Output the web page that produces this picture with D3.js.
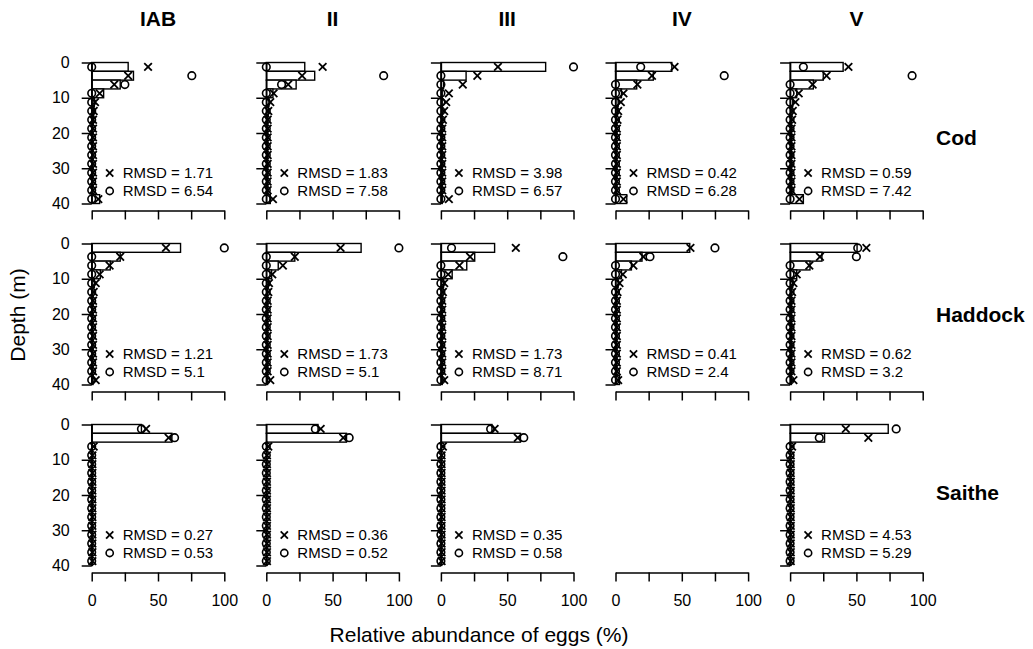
<!DOCTYPE html>
<html lang="en">
<head>
<meta charset="UTF-8">
<title>Relative abundance of eggs by depth</title>
<style>
    body { margin: 0; padding: 0; background: #fff; }
    svg { display: block; font-family: "Liberation Sans", Arial, sans-serif; }
    .axis path, .axis line { stroke: #000; stroke-width: 1.5; }
    .axis text { font-size: 16px; fill: #000; }
    .bar { fill: #fff; stroke: #000; stroke-width: 1.4; }
    .circ { fill: none; stroke: #000; stroke-width: 1.6; }
    .cross { stroke: #000; stroke-width: 1.8; }
    .rmsd { font-size: 15px; }
</style>
</head>
<body>
<svg width="1033" height="649"></svg>
<script src="https://d3js.org/d3.v7.min.js"></script>
<script>
    // Regions (columns) and species (rows)
    const regions = ["IAB", "II", "III", "IV", "V"];
    const species = ["Cod", "Haddock", "Saithe"];

    // Upper edge of each 2.5 m depth bin
    const binTops = [0, 2.5, 5, 7.5, 10, 12.5, 15, 17.5, 20, 22.5, 25, 27.5, 30, 32.5, 35, 37.5];
    const binSize = 2.5;

    const depthTicks = [0, 10, 20, 30, 40];
    const abundTicks = [0, 25, 50, 75, 100];
    const abundLabels = [0, 50, 100];

    // Bars, one row per region (IAB, II, III, IV, V)
    const codBars = [
        [27.5, 31.5, 21.5, 9, 2, 1.5, 1.2, 1, 1, 1, 1, 1, 1, 1, 1, 6],
        [29, 36.5, 22.5, 5, 2, 1.5, 1, 1, 1, 1, 1, 1, 1, 1, 1, 3],
        [79, 19, 2, 1, 1, 1, 1, 1, 1, 1, 1, 1, 1, 1, 1, 1],
        [42.5, 28.5, 16, 4.5, 2, 1.5, 1, 1, 1, 1, 1, 1, 1, 1, 1, 8.5],
        [40, 25, 17.5, 5, 2, 1.5, 1, 1, 1, 1, 1, 1, 1, 1, 1, 10]
    ];
    const codCross = [
        [42.5, 27.5, 17, 6, 2.5, 1.5, 1, 1, 1, 1, 1, 1, 1, 1, 1, 5],
        [42.5, 27, 16.5, 5.5, 3, 1.5, 1, 1, 1, 1, 1, 1, 1, 1, 1, 5],
        [43, 27.5, 16.5, 6, 4, 2.5, 1.5, 1, 1, 1, 1, 1, 1, 1, 1, 6],
        [44.5, 27.5, 16.5, 6, 4, 2, 1.5, 1, 1, 1, 1, 1, 1, 1, 1, 6],
        [44, 27.5, 17, 6.5, 4, 2, 1.5, 1, 1, 1, 1, 1, 1, 1, 1, 7]
    ];
    const codCircle = [
        [0, 75.5, 25, 0, 0, 0, 0, 0, 0, 0, 0, 0, 0, 0, 0, 0],
        [0, 88.5, 11.5, 0, 0, 0, 0, 0, 0, 0, 0, 0, 0, 0, 0, 0],
        [100, 0, 0, 0, 0, 0, 0, 0, 0, 0, 0, 0, 0, 0, 0, 0],
        [19, 82, 0, 0, 0, 0, 0, 0, 0, 0, 0, 0, 0, 0, 0, 0],
        [10, 92, 0, 0, 0, 0, 0, 0, 0, 0, 0, 0, 0, 0, 0, 0]
    ];

    const haddockBars = [
        [67, 21.5, 14, 6.5, 2, 1, 1, 1, 1, 1, 1, 1, 1, 1, 1, 1],
        [71.5, 21.5, 9, 4, 1.5, 1, 1, 1, 1, 1, 1, 1, 1, 1, 1, 1],
        [40.5, 25.5, 19.5, 8.5, 2, 1.5, 1, 1, 1, 1, 1, 1, 1, 1, 1, 1],
        [56, 20, 12, 4.5, 2, 1, 1, 1, 1, 1, 1, 1, 1, 1, 1, 3],
        [50.5, 24, 15, 5, 2, 1, 1, 1, 1, 1, 1, 1, 1, 1, 1, 1]
    ];
    const haddockCross = [
        [56, 21.5, 13.5, 6, 3, 1.5, 1, 1, 1, 1, 1, 1, 1, 1, 1, 3],
        [56, 21.5, 12.5, 4.5, 2, 1.5, 1, 1, 1, 1, 1, 1, 1, 1, 1, 3],
        [56.5, 22, 14, 5.5, 2.5, 1.5, 1, 1, 1, 1, 1, 1, 1, 1, 1, 2.5],
        [56.5, 21, 13.5, 5.5, 3, 1.5, 1, 1, 1, 1, 1, 1, 1, 1, 1, 2],
        [57.5, 22.5, 14.5, 5, 2.5, 1.5, 1, 1, 1, 1, 1, 1, 1, 1, 1, 2.5]
    ];
    const haddockCircle = [
        [100, 0, 0, 0, 0, 0, 0, 0, 0, 0, 0, 0, 0, 0, 0, 0],
        [100, 0, 0, 0, 0, 0, 0, 0, 0, 0, 0, 0, 0, 0, 0, 0],
        [8, 92, 0, 0, 0, 0, 0, 0, 0, 0, 0, 0, 0, 0, 0, 0],
        [75, 26, 0, 0, 0, 0, 0, 0, 0, 0, 0, 0, 0, 0, 0, 0],
        [51, 50, 0, 0, 0, 0, 0, 0, 0, 0, 0, 0, 0, 0, 0, 0]
    ];

    // Saithe has no panel for region IV
    const saitheBars = [
        [37.5, 60.5, 0.5, 0.5, 0.5, 0.5, 0.5, 0.5, 0.5, 0.5, 0.5, 0.5, 0.5, 0.5, 0.5, 0.5],
        [39, 60.5, 0.5, 0.5, 0.5, 0.5, 0.5, 0.5, 0.5, 0.5, 0.5, 0.5, 0.5, 0.5, 0.5, 0.5],
        [38.5, 60, 0.5, 0.5, 0.5, 0.5, 0.5, 0.5, 0.5, 0.5, 0.5, 0.5, 0.5, 0.5, 0.5, 0.5],
        null,
        [74, 26, 0.5, 0.5, 0.5, 0.5, 0.5, 0.5, 0.5, 0.5, 0.5, 0.5, 0.5, 0.5, 0.5, 0.5]
    ];
    const saitheCross = [
        [41, 58, 1.5, 0.5, 0.5, 0.5, 0.5, 0.5, 0.5, 0.5, 0.5, 0.5, 0.5, 0.5, 0.5, 0.5],
        [41, 58, 1.5, 0.5, 0.5, 0.5, 0.5, 0.5, 0.5, 0.5, 0.5, 0.5, 0.5, 0.5, 0.5, 0.5],
        [40.5, 58, 1.5, 0.5, 0.5, 0.5, 0.5, 0.5, 0.5, 0.5, 0.5, 0.5, 0.5, 0.5, 0.5, 0.5],
        null,
        [42, 59, 1.5, 0.5, 0.5, 0.5, 0.5, 0.5, 0.5, 0.5, 0.5, 0.5, 0.5, 0.5, 0.5, 0.5]
    ];
    const saitheCircle = [
        [37.5, 62.5, 0, 0, 0, 0, 0, 0, 0, 0, 0, 0, 0, 0, 0, 0],
        [37, 62.5, 0, 0, 0, 0, 0, 0, 0, 0, 0, 0, 0, 0, 0, 0],
        [37.5, 62.5, 0, 0, 0, 0, 0, 0, 0, 0, 0, 0, 0, 0, 0, 0],
        null,
        [80, 22, 0, 0, 0, 0, 0, 0, 0, 0, 0, 0, 0, 0, 0, 0]
    ];

    // RMSD labels (cross, circle) per species and region
    const rmsdCross = [
        ["1.71", "1.83", "3.98", "0.42", "0.59"],
        ["1.21", "1.73", "1.73", "0.41", "0.62"],
        ["0.27", "0.36", "0.35", null, "4.53"]
    ];
    const rmsdCircle = [
        ["6.54", "7.58", "6.57", "6.28", "7.42"],
        ["5.1", "5.1", "8.71", "2.4", "3.2"],
        ["0.53", "0.52", "0.58", null, "5.29"]
    ];

    const barsBySpecies = [codBars, haddockBars, saitheBars];
    const crossBySpecies = [codCross, haddockCross, saitheCross];
    const circleBySpecies = [codCircle, haddockCircle, saitheCircle];

    const svg = d3.select("svg");

    // Panel layout
    const panelLeft = 91.7, colStep = 174.6, panelW = 132.6;
    const panelTop = 62.5, rowStep = 181, panelH = 141;
    const xAxisOffset = 148;
    const speciesLabelDy = [75, 71, 68];
    const markSize = 3.8;

    function drawCross(g, cx, cy, s) {
        g.append("line").attr("class", "cross")
            .attr("x1", cx - s).attr("y1", cy - s).attr("x2", cx + s).attr("y2", cy + s);
        g.append("line").attr("class", "cross")
            .attr("x1", cx - s).attr("y1", cy + s).attr("x2", cx + s).attr("y2", cy - s);
    }

    species.forEach((sp, r) => {
        const y0 = panelTop + r * rowStep;

        regions.forEach((reg, c) => {
            const x0 = panelLeft + c * colStep;
            const x = d3.scaleLinear().domain([0, 100]).range([x0, x0 + panelW]);
            const y = d3.scaleLinear().domain([0, 40]).range([y0, y0 + panelH]);
            const g = svg.append("g");

            const bars = barsBySpecies[r][c];
            const crosses = crossBySpecies[r][c];
            const circles = circleBySpecies[r][c];

            // x axis is always drawn
            const xAxis = d3.axisBottom(x)
                .tickValues(abundTicks)
                .tickSize(9)
                .tickSizeOuter(0)
                .tickPadding(13)
                .tickFormat(d => (r === species.length - 1 && abundLabels.includes(d)) ? d : "");
            g.append("g").attr("class", "axis")
                .attr("transform", `translate(0,${y0 + xAxisOffset})`)
                .call(xAxis);

            if (!bars) return;

            // bars
            g.selectAll("rect.bar")
                .data(binTops.map((t, i) => ({ top: t, v: bars[i] })))
                .enter().append("rect")
                .attr("class", "bar")
                .attr("x", x(0))
                .attr("y", d => y(d.top))
                .attr("width", d => x(d.v) - x(0))
                .attr("height", d => y(d.top + binSize) - y(d.top));

            // y axis
            const yAxis = d3.axisLeft(y)
                .tickValues(depthTicks)
                .tickSize(10)
                .tickSizeOuter(0)
                .tickPadding(12)
                .tickFormat(d => c === 0 ? d : "");
            g.append("g").attr("class", "axis")
                .attr("transform", `translate(${x(0)},0)`)
                .call(yAxis);

            // circles
            g.selectAll("circle.circ")
                .data(binTops.map((t, i) => ({ mid: t + binSize / 2, v: circles[i] })))
                .enter().append("circle")
                .attr("class", "circ")
                .attr("cx", d => x(d.v))
                .attr("cy", d => y(d.mid))
                .attr("r", markSize);

            // crosses
            binTops.forEach((t, i) => drawCross(g, x(crosses[i]), y(t + binSize / 2), markSize));

            // RMSD legend
            const lx = x0 + 18, ly1 = y0 + 110.5, ly2 = y0 + 128.5;
            drawCross(g, lx, ly1, 3.6);
            g.append("circle").attr("class", "circ").attr("cx", lx).attr("cy", ly2).attr("r", 3.6);
            g.append("text").attr("class", "rmsd")
                .attr("x", lx + 13).attr("y", ly1).attr("dy", "0.36em")
                .text(`RMSD = ${rmsdCross[r][c]}`);
            g.append("text").attr("class", "rmsd")
                .attr("x", lx + 13).attr("y", ly2).attr("dy", "0.36em")
                .text(`RMSD = ${rmsdCircle[r][c]}`);
        });

        // species label on the right
        svg.append("text")
            .attr("x", 936)
            .attr("y", y0 + speciesLabelDy[r])
            .attr("dy", "0.36em")
            .attr("font-size", 21)
            .attr("font-weight", "bold")
            .text(sp);
    });

    // region titles
    regions.forEach((reg, c) => {
        svg.append("text")
            .attr("x", panelLeft + c * colStep + panelW / 2)
            .attr("y", 18)
            .attr("dy", "0.36em")
            .attr("text-anchor", "middle")
            .attr("font-size", 21)
            .attr("font-weight", "bold")
            .text(reg);
    });

    // axis titles
    svg.append("text")
        .attr("x", 479)
        .attr("y", 634)
        .attr("dy", "0.36em")
        .attr("text-anchor", "middle")
        .attr("font-size", 21)
        .text("Relative abundance of eggs (%)");

    svg.append("text")
        .attr("transform", "translate(17,315) rotate(-90)")
        .attr("dy", "0.36em")
        .attr("text-anchor", "middle")
        .attr("font-size", 21)
        .text("Depth (m)");
</script>
</body>
</html>
